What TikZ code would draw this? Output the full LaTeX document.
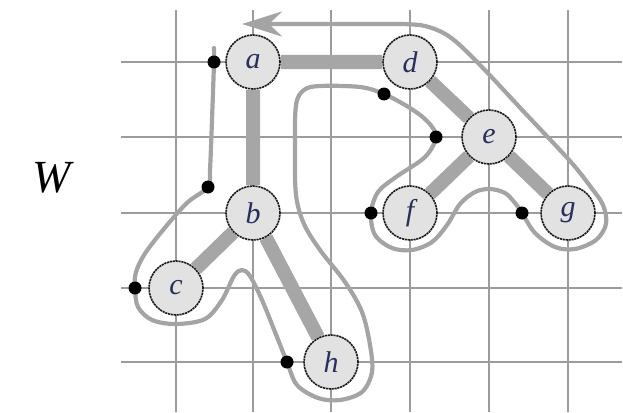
\documentclass[tikz,border=0pt]{standalone}
\usepackage{fontspec}
\setmainfont{Liberation Serif}
\usetikzlibrary{arrows.meta}
\pgfdeclarelayer{gridlayer}
\pgfdeclarelayer{pathlayer}
\pgfsetlayers{gridlayer,pathlayer,main}
\definecolor{gridgray}{HTML}{9C9C9C}
\definecolor{edgegray}{HTML}{A6A6A6}
\definecolor{walkgray}{HTML}{A4A4A4}
\definecolor{nodefill}{HTML}{E2E2E2}
\definecolor{labelink}{HTML}{28305A}
\begin{document}
\begin{tikzpicture}[x=1pt,y=-1pt,
  gridline/.style={draw=gridgray,line width=2pt},
  treeedge/.style={draw=edgegray,line width=14pt},
  walk/.style={draw=walkgray,line width=4.2pt,line cap=round,line join=round},
  vertex/.style={circle,minimum size=54pt,inner sep=0pt,fill=nodefill,
    draw=black!90,line width=1.6pt,dash pattern=on 2.2pt off 0.7pt,
    text=labelink,font=\fontsize{30}{30}\selectfont\itshape},
  visit/.style={circle,fill=black,minimum size=13pt,inner sep=0pt}]
\useasboundingbox (0,0) rectangle (623,412);

% tree vertices
\node[vertex] (a) at (253,62)  {a};
\node[vertex] (d) at (410,62)  {d};
\node[vertex] (e) at (489,137) {e};
\node[vertex] (b) at (253,213) {b};
\node[vertex] (f) at (410,213) {f};
\node[vertex] (g) at (568,213) {g};
\node[vertex] (c) at (176,288) {c};
\node[vertex] (h) at (331,362) {h};

% visit marks of the walk
\node[visit] (va) at (214,62)  {};
\node[visit] (vb) at (208,187) {};
\node[visit] (vc) at (135,288) {};
\node[visit] (vh) at (287,362) {};
\node[visit] (vd) at (384,94)  {};
\node[visit] (ve) at (436,137) {};
\node[visit] (vf) at (371,213) {};
\node[visit] (vg) at (522,213) {};

% name of the walk
\node[font=\fontsize{46}{46}\selectfont\itshape] (wlabel) at (52,178) {W};

% background grid
\begin{pgfonlayer}{gridlayer}
\foreach \gx in {176,253,331,410,489,568}
  \draw[gridline] (\gx,10) -- (\gx,412);
\foreach \gy in {62,137,213,288,362}
  \draw[gridline] (121,\gy) -- (622,\gy);
\end{pgfonlayer}

\begin{pgfonlayer}{pathlayer}
% tree edges
\path[treeedge] (a) -- (d) (a) -- (b) (d) -- (e) (e) -- (f) (e) -- (g)
  (b) -- (c) (b) -- (h);

% the walk around the tree
\coordinate (ws) at (214,48);
\coordinate (wt) at (400,24);
\coordinate (we) at (242,24);
\draw[walk,-{Stealth[length=40pt,width=25pt,inset=13pt]}]
  plot[smooth,tension=0.55] coordinates {
    (ws) (va.center) (212,120) (210,170) (vb.center)
    (188,202) (168,224) (146,252) (136,272) (vc.center)
    (138,307) (152,320) (176,324) (205,319) (222,300) (234,276) (242,270)
    (250,276) (262,300) (275,332) (vh.center)
    (297,385) (318,398) (340,400) (362,392) (372,372) (370,345) (362,312)
    (345,282) (320,250) (304,224) (296,195) (295,150) (296,105) (304,90)
    (320,86) (360,87) (vd.center)
    (410,108) (428,122) (ve.center)
    (425,157) (396,177) (378,192) (vf.center)
    (375,235) (392,248) (412,250) (432,242) (447,225) (460,204) (475,192)
    (490,189) (505,193) (515,203) (vg.center)
    (535,233) (555,247) (575,249) (596,240) (606,224) (603,205) (590,186)
    (570,161) (525,113) (480,65) (450,37) (425,26) (wt)
  } -- (we);
\end{pgfonlayer}
\end{tikzpicture}
\end{document}
